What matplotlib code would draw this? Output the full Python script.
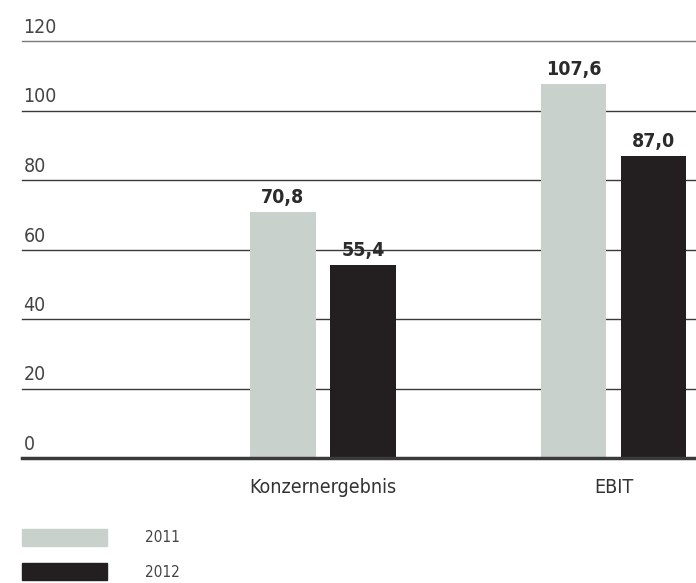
import numpy as np
import matplotlib.pyplot as plt
from matplotlib.patches import Patch

plt.rcParams['font.family'] = ['DejaVu Sans']
plt.rcParams['font.stretch'] = 'condensed'

categories = ['Konzernergebnis', 'EBIT']
years = ['2011', '2012']
values_2011 = [70.8, 107.6]
values_2012 = [55.4, 87.0]
yticks = [0, 20, 40, 60, 80, 100, 120]

col_2011 = '#c9d1cc'
col_2012 = '#231f20'
px = 72 / 100  # points per pixel

fig = plt.figure(figsize=(6.96, 5.83), dpi=100)
ax = fig.add_axes([22 / 696, 125 / 583, 1 - 22 / 696, 417 / 583])

x = np.arange(len(categories))
w = 0.2255
off = 0.1377
b1 = ax.bar(x - off, values_2011, w, color=col_2011, zorder=3)
b2 = ax.bar(x + off, values_2012, w, color=col_2012, zorder=3)

for bars, vals in ((b1, values_2011), (b2, values_2012)):
    for r, v in zip(bars, vals):
        ax.annotate(f'{v:.1f}'.replace('.', ','), (r.get_x() + r.get_width() / 2, v),
                    xytext=(0, 9 * px), textcoords='offset points',
                    ha='center', va='baseline', fontsize=14, fontweight='bold',
                    color='#2b2b2b')

for t in yticks:
    ax.axhline(t, color='#3a3a3a' if t < 120 else '#7a7a7a',
               lw=2.5 if t == 0 else 1.0, zorder=2 if t else 4, clip_on=False)
    ax.annotate(str(t), (0, t), xycoords=('axes fraction', 'data'),
                xytext=(1, 8 * px), textcoords='offset points',
                ha='left', va='baseline', fontsize=14, color='#444444')

for xi, c in zip(x, categories):
    ax.annotate(c, (xi, 0), xytext=(0, -35 * px), textcoords='offset points',
                ha='center', va='baseline', fontsize=14, color='#333333',
                annotation_clip=False)

ax.set_xlim(-1.036, 1.284)
ax.set_ylim(0, 120)
ax.axis('off')

fs = 11
fpx = fs / px
handles = [Patch(color=col_2011), Patch(color=col_2012)]
fig.legend(handles, years, loc='upper left',
           bbox_to_anchor=(22 / 696, 1 - 529 / 583), borderpad=0, borderaxespad=0,
           frameon=False, fontsize=fs, handlelength=85 / fpx, handleheight=20 / fpx,
           handletextpad=38 / fpx, labelspacing=17.5 / fpx, labelcolor='#444444')

fig.savefig('out.png', dpi=100)
